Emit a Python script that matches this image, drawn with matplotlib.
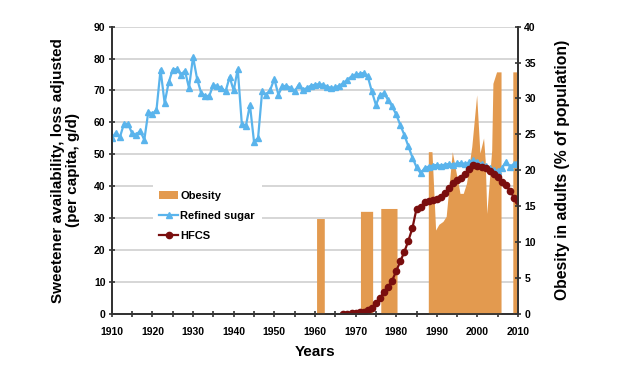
import numpy as np
import matplotlib.pyplot as plt

plt.rcParams['font.family'] = ['Liberation Sans', 'DejaVu Sans']
plt.rcParams['font.weight'] = 'bold'

# refined sugar, g/d per capita, 1910-2010
sugar_years = np.arange(1910, 2011)
sugar = [55.1, 56.8, 55.4, 59.6, 59.5, 56.6, 56.1, 57.4, 54.5, 63.4,
         62.6, 63.9, 76.5, 66.1, 72.5, 76.5, 76.7, 74.9, 76.2, 70.8,
         80.5, 73.6, 69.2, 68.3, 68.3, 71.8, 71.3, 70.8, 69.7, 74.2,
         70.0, 76.7, 59.6, 58.9, 65.5, 54.0, 55.1, 69.7, 68.7, 70.2,
         73.6, 68.7, 71.3, 71.5, 70.8, 69.7, 71.8, 70.0, 70.8, 71.5,
         71.8, 72.0, 71.8, 71.2, 70.8, 71.0, 71.5, 72.3, 73.4, 74.4,
         75.0, 75.2, 75.5, 74.4, 69.7, 65.5, 68.5, 69.2, 67.0, 65.0,
         62.5, 59.2, 56.1, 52.5, 49.0, 46.0, 44.1, 45.7, 46.2, 46.5,
         46.7, 46.5, 46.8, 47.0, 46.8, 47.2, 47.3, 47.0, 47.5, 48.3,
         47.5, 47.0, 46.5, 45.6, 45.0, 44.8, 45.7, 47.7, 46.2, 47.0,
         47.7]

# HFCS, g/d per capita, 1967-2010
hfcs_years = np.arange(1967, 2011)
hfcs = [0.1, 0.2, 0.3, 0.5, 0.6, 0.8, 1.3, 2.0, 3.4, 5.0,
        7.0, 8.5, 10.5, 13.5, 16.5, 19.5, 23.0, 27.0, 33.0, 33.5,
        35.0, 35.3, 35.8, 36.0, 36.8, 37.8, 39.5, 41.0, 42.0, 42.5,
        44.0, 45.5, 46.8, 46.5, 46.0, 45.8, 44.8, 43.8, 42.8, 41.5,
        40.5, 38.5, 36.5, 35.5]

# obesity in adults (% of population), outline
obesity_years = [1960.4, 1960.4, 1962.3, 1962.3,
                 1971.2, 1971.2, 1974.2, 1974.2,
                 1976.2, 1976.2, 1980.2, 1980.2,
                 1987.9, 1987.9, 1988.8, 1989.7, 1990.5, 1991.5, 1992.3,
                 1993.8, 1995.7, 1996.5, 1997.3, 1998.6, 1999.8, 2000.6,
                 2001.5, 2001.9, 2002.3, 2003.5, 2003.8, 2004.7, 2005.8,
                 2005.8, 2008.7, 2008.7, 2009.7, 2009.7]
obesity = [0, 13.3, 13.3, 0,
           0, 14.3, 14.3, 0,
           0, 14.7, 14.7, 0,
           0, 22.6, 22.6, 11.7, 12.5, 12.9, 13.6,
           22.6, 16.8, 16.8, 18.2, 23.3, 30.5, 22.4,
           24.5, 21.4, 14.0, 22.8, 32.1, 33.7, 33.7,
           0, 0, 33.7, 33.7, 0]

c_ob = '#E39A4F'
c_sugar = '#5AB4EC'
c_hfcs = '#7A0E0E'

fig, ax1 = plt.subplots(figsize=(6.28, 3.85), dpi=100)
plt.subplots_adjust(left=0.178, right=0.825, top=0.931, bottom=0.184)
ax2 = ax1.twinx()

ax1.set_xlim(1910, 2010)
ax1.set_ylim(0, 90)
ax2.set_ylim(0, 40)

ax1.grid(axis='y', color='#d0d0d0', lw=1.2)
ax1.set_axisbelow(True)

area = ax2.fill_between(obesity_years, obesity, 0, color=c_ob, lw=0,
                        label='Obesity')
# lines sit on ax2 (above the area) but use the left-axis scale
ls, = ax2.plot(sugar_years, sugar, color=c_sugar, lw=1.6, marker='^',
               ms=5, transform=ax1.transData, label='Refined sugar')
lh, = ax2.plot(hfcs_years, hfcs, color=c_hfcs, lw=1.6, marker='o',
               ms=4.5, transform=ax1.transData, label='HFCS')
ax2.set_ylim(0, 40)

ax1.set_xticks(np.arange(1910, 2011, 10))
ax1.set_xticks(np.arange(1910, 2011, 5), minor=True)
ax1.set_yticks(np.arange(0, 91, 10))
ax2.set_yticks(np.arange(0, 41, 5))

for ax in (ax1, ax2):
    ax.spines['top'].set_visible(False)
    for s in ('left', 'right', 'bottom'):
        ax.spines[s].set_color('#333333')
        ax.spines[s].set_linewidth(1.3)
    ax.tick_params(which='both', direction='inout', length=5, width=1.2,
                   color='#333333', labelsize=7.5, pad=2)
ax1.tick_params(axis='x', pad=7)

ax1.set_xlabel('Years', fontsize=11, fontweight='bold')
ax1.set_ylabel('Sweetener availability, loss adjusted\n(per capita, g/d)',
               fontsize=11, fontweight='bold', linespacing=1.05)
ax2.set_ylabel('Obesity in adults (% of population)', fontsize=11.3,
               fontweight='bold')
ax1.yaxis.set_label_coords(-0.079, 0.5)
ax2.yaxis.set_label_coords(1.091, 0.5)
ax1.xaxis.set_label_coords(0.5, -0.108)

leg = ax2.legend([area, ls, lh], ['Obesity', 'Refined sugar', 'HFCS'],
                 loc='upper left', bbox_to_anchor=(0.087, 0.47),
                 frameon=True, fancybox=False, facecolor='white',
                 edgecolor='none', framealpha=1, fontsize=8,
                 handlelength=1.7, handletextpad=0.2, labelspacing=0.9,
                 borderpad=0.6)

plt.savefig('out.png', dpi=100)
